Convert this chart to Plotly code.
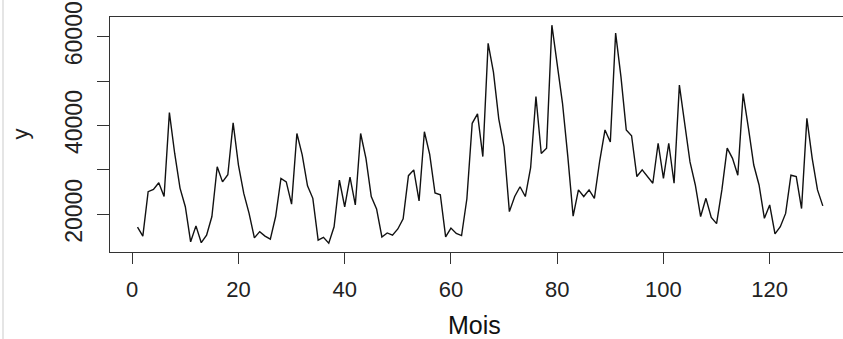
import plotly.graph_objects as go

# Monthly series (Mois 1..130)
mois = list(range(1, 131))
y = [
    17100, 15100, 25100, 25600, 27100, 24000, 42900, 33700, 25900, 21700,
    13800, 17400, 13600, 15300, 19500, 30700, 27300, 28900, 40600, 31100,
    24700, 20200, 14700, 16100, 15100, 14400, 19500, 28100, 27300, 22300,
    38200, 33400, 26400, 23600, 14200, 14800, 13500, 17200, 27700, 21700,
    28400, 22100, 38200, 32600, 24000, 21200, 14900, 15800, 15300, 16700,
    19000, 28700, 30000, 23000, 38600, 33500, 24800, 24400, 14900, 16900,
    15700, 15200, 23500, 40500, 42600, 33000, 58500, 52000, 41500, 35200,
    20600, 24000, 26200, 24000, 30500, 46500, 33700, 34900, 62600, 54000,
    45000, 33000, 19600, 25500, 24000, 25500, 23600, 32000, 39000, 36300,
    60800, 51000, 39000, 37700, 28500, 30000, 28500, 27000, 36000, 28100,
    36000, 27000, 49100, 40100, 31800, 26600, 19500, 23600, 19300, 17900,
    25500, 34900, 32600, 28800, 47200, 39400, 31100, 26600, 19100, 22100,
    15600, 17200, 20200, 28800, 28500, 21300, 41600, 32600, 25500, 21900,
]

x_ticks = [0, 20, 40, 60, 80, 100, 120]
y_ticks = [20000, 30000, 40000, 50000, 60000]
y_ticktext = ["20000", "", "40000", "", "60000"]

fig = go.Figure()
fig.add_trace(go.Scatter(
    x=mois, y=y, mode="lines",
    line=dict(color="#111111", width=1.4),
    showlegend=False, hoverinfo="skip",
))

W, H = 843, 339
L, R, T, B = 110, 0, 17, 87

fig.update_layout(
    width=W, height=H,
    margin=dict(l=L, r=R, t=T, b=B, pad=0),
    paper_bgcolor="white", plot_bgcolor="white",
    font=dict(family="Liberation Sans, Arial, sans-serif", color="#222222"),
    xaxis=dict(
        range=[-4.18, 133.8],
        tickvals=x_ticks, ticktext=[str(v) for v in x_ticks],
        ticks="outside", ticklen=11, tickwidth=1.2, tickcolor="#333333",
        tickfont=dict(size=22, family="Liberation Sans, Arial, sans-serif", color="#222222"),
        ticklabelstandoff=6,
        showline=True, mirror=True, linecolor="#333333", linewidth=1.4,
        showgrid=False, zeroline=False,
    ),
    yaxis=dict(
        range=[11510, 64437],
        tickvals=y_ticks, ticktext=y_ticktext,
        ticks="outside", ticklen=12, tickwidth=1.2, tickcolor="#333333",
        tickangle=-90,
        tickfont=dict(size=23, family="Liberation Sans Narrow, Liberation Sans, Arial, sans-serif", color="#222222"),
        ticklabelstandoff=6,
        showline=True, mirror=False, linecolor="#333333", linewidth=1.4,
        showgrid=False, zeroline=False,
    ),
    annotations=[
        dict(text="Mois", xref="paper", yref="paper",
             x=(474 - L) / (W - L), y=(H - B - 325) / (H - T - B),
             xanchor="center", yanchor="middle", showarrow=False,
             font=dict(size=25, family="Liberation Sans, Arial, sans-serif", color="#111111")),
        dict(text="y", xref="paper", yref="paper",
             x=(20 - L) / (W - L), y=0.5, textangle=-90,
             xanchor="center", yanchor="middle", showarrow=False,
             font=dict(size=22, family="Liberation Sans Narrow, Liberation Sans, Arial, sans-serif", color="#222222")),
    ],
    shapes=[
        dict(type="line", xref="paper", yref="paper",
             x0=(3 - L) / (W - L), x1=(3 - L) / (W - L), y0=-B / (H - T - B), y1=1 + T / (H - T - B),
             line=dict(color="#dddddd", width=1.5)),
    ],
)

fig.write_html("out.html")
